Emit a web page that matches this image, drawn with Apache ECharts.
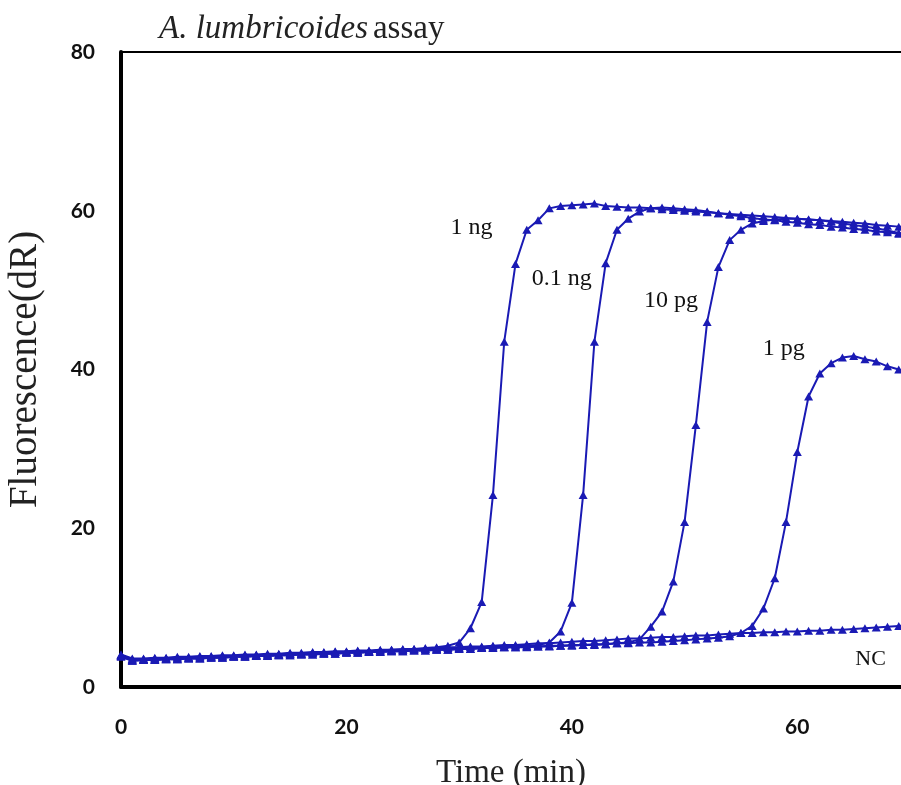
<!DOCTYPE html>
<html>
<head>
    <meta charset="utf-8">
    <title>A. lumbricoides assay</title>
    <script src="https://cdn.jsdelivr.net/npm/echarts@6/dist/echarts.min.js"></script>
</head>
<body style="margin:0;">
    <div id="main" style="width:901px;height:785px;"></div>
    <script type="text/javascript">
        // time points (min)
        var minutes = [0,1,2,3,4,5,6,7,8,9,
            10,11,12,13,14,15,16,17,18,19,
            20,21,22,23,24,25,26,27,28,29,
            30,31,32,33,34,35,36,37,38,39,
            40,41,42,43,44,45,46,47,48,49,
            50,51,52,53,54,55,56,57,58,59,
            60,61,62,63,64,65,66,67,68,69,
            70];

        // the picture is cut off a little after 69 min
        var xRange = [0, 69.2];
        var yTicks = [0, 20, 40, 60, 80];

        // fluorescence (dR) per template amount
        var ng1 = [4.1,3.6,3.6,3.7,3.7,3.8,3.8,3.9,3.9,4.0,
            4.0,4.1,4.1,4.2,4.2,4.3,4.3,4.4,4.4,4.5,
            4.5,4.6,4.6,4.7,4.7,4.8,4.8,4.9,5.0,5.2,
            5.6,7.4,10.7,24.2,43.5,53.3,57.6,58.8,60.3,60.6,
            60.7,60.8,60.9,60.6,60.5,60.4,60.4,60.3,60.2,60.1,
            60.0,59.9,59.8,59.7,59.6,59.5,59.4,59.3,59.2,59.1,
            59.0,58.9,58.8,58.7,58.6,58.5,58.4,58.2,58.1,58.0,
            57.9];
        var ng01 = [4.0,3.5,3.5,3.6,3.6,3.7,3.7,3.8,3.8,3.9,
            3.9,4.0,4.0,4.1,4.1,4.2,4.2,4.3,4.3,4.4,
            4.4,4.5,4.5,4.6,4.6,4.7,4.7,4.8,4.8,4.9,
            4.9,5.0,5.0,5.1,5.1,5.2,5.2,5.3,5.6,7.0,
            10.6,24.2,43.5,53.4,57.6,59.0,59.9,60.3,60.4,60.3,
            60.2,60.1,59.9,59.7,59.5,59.3,59.1,58.9,58.8,58.6,
            58.5,58.3,58.2,58.0,57.9,57.7,57.6,57.4,57.3,57.1,
            57.0];
        var pg10 = [3.8,3.3,3.4,3.4,3.5,3.5,3.6,3.6,3.7,3.7,
            3.8,3.8,3.9,3.9,4.0,4.0,4.1,4.1,4.2,4.2,
            4.3,4.3,4.4,4.4,4.5,4.5,4.6,4.6,4.7,4.7,
            4.8,4.8,4.9,4.9,5.0,5.0,5.0,5.1,5.1,5.2,
            5.2,5.3,5.3,5.4,5.5,5.6,6.0,7.6,9.5,13.3,
            20.8,33.0,46.0,52.9,56.3,57.6,58.4,58.7,58.9,59.0,
            59.0,58.9,58.8,58.6,58.4,58.2,58.0,57.8,57.5,57.2,
            57.0];
        var pg1 = [3.9,3.3,3.4,3.4,3.5,3.5,3.6,3.6,3.7,3.7,
            3.8,3.8,3.9,3.9,4.0,4.0,4.1,4.1,4.2,4.2,
            4.3,4.3,4.4,4.4,4.5,4.5,4.6,4.6,4.7,4.7,
            4.8,4.8,4.9,4.9,5.0,5.0,5.1,5.1,5.2,5.2,
            5.3,5.3,5.4,5.4,5.5,5.5,5.6,5.6,5.7,5.8,
            5.9,6.0,6.1,6.2,6.4,6.8,7.7,9.9,13.7,20.8,
            29.6,36.6,39.5,40.8,41.5,41.7,41.3,41.0,40.4,40.0,
            39.7];
        var nc = [4.0,3.4,3.5,3.5,3.6,3.6,3.7,3.7,3.8,3.8,
            3.9,3.9,4.0,4.0,4.1,4.2,4.2,4.3,4.3,4.4,
            4.4,4.5,4.5,4.6,4.7,4.7,4.8,4.8,4.9,5.0,
            5.0,5.1,5.1,5.2,5.3,5.3,5.4,5.5,5.5,5.6,
            5.7,5.8,5.8,5.9,6.0,6.1,6.1,6.2,6.3,6.3,
            6.4,6.5,6.5,6.6,6.7,6.8,6.8,6.9,6.9,7.0,
            7.0,7.1,7.1,7.2,7.2,7.3,7.4,7.5,7.6,7.7,
            7.8];

        var seriesNames = ['1 ng', '0.1 ng', '10 pg', '1 pg', 'NC'];
        var seriesValues = [ng1, ng01, pg10, pg1, nc];
        // where each curve's label sits, in data units
        var labelPos = [[31.1, 57.9], [39.1, 51.4], [48.8, 48.7], [58.8, 42.6], [66.5, 3.5]];

        var myChart = echarts.init(document.getElementById('main'));
        var blue = '#1a1ab4';

        var series = [];
        for (var i = 0; i < seriesNames.length; i++) {
            var pts = [];
            for (var k = 0; k < minutes.length; k++) {
                pts.push([minutes[k], seriesValues[i][k]]);
            }
            series.push({
                name: seriesNames[i],
                type: 'line',
                data: pts,
                symbol: 'triangle',
                symbolSize: [9, 8],
                lineStyle: {color: blue, width: 2},
                itemStyle: {color: blue},
                z: 2 + i,
                markPoint: {
                    symbol: 'rect',
                    symbolSize: 1,
                    itemStyle: {color: 'rgba(0,0,0,0)'},
                    label: {
                        show: true,
                        position: 'inside',
                        formatter: '{b}',
                        color: '#111',
                        fontFamily: 'Liberation Serif',
                        fontSize: i == 4 ? 22 : 24
                    },
                    data: [{name: seriesNames[i], coord: labelPos[i]}]
                }
            });
        }

        var option = {
            animation: false,
            backgroundColor: '#fff',
            title: {
                text: '{i|A. lumbricoides} {n|assay}',
                left: 154,
                top: 8,
                textStyle: {
                    rich: {
                        i: {fontFamily: 'Liberation Serif', fontStyle: 'italic', fontWeight: 'normal', fontSize: 33, color: '#222'},
                        n: {fontFamily: 'Liberation Serif', fontWeight: 'normal', fontSize: 33, color: '#222'}
                    }
                }
            },
            grid: {
                left: 121,
                top: 52,
                bottom: 98,
                right: 0,
                outerBoundsMode: 'none'
            },
            xAxis: [{
                type: 'value',
                min: xRange[0],
                max: xRange[1],
                interval: 20,
                splitLine: {show: false},
                axisTick: {show: false},
                axisLine: {lineStyle: {color: '#000', width: 4}},
                axisLabel: {
                    margin: 30,
                    color: '#111',
                    fontFamily: 'Lato',
                    fontWeight: 'bold',
                    fontSize: 21,
                    showMaxLabel: false
                },
                name: 'Time (min)',
                nameLocation: 'middle',
                nameGap: 70,
                nameTextStyle: {
                    fontFamily: 'Liberation Serif',
                    fontSize: 33,
                    color: '#222'
                }
            }, {
                // thin top frame line
                type: 'value',
                position: 'top',
                min: xRange[0],
                max: xRange[1],
                splitLine: {show: false},
                axisTick: {show: false},
                axisLabel: {show: false},
                axisLine: {lineStyle: {color: '#000', width: 2}}
            }],
            yAxis: {
                type: 'value',
                min: yTicks[0],
                max: yTicks[yTicks.length - 1],
                interval: 20,
                splitLine: {show: false},
                axisTick: {show: false},
                axisLine: {lineStyle: {color: '#000', width: 4}},
                axisLabel: {
                    margin: 26,
                    color: '#111',
                    fontFamily: 'Lato',
                    fontWeight: 'bold',
                    fontSize: 21
                },
                name: 'Fluorescence(dR)',
                nameLocation: 'middle',
                nameGap: 76,
                nameTextStyle: {
                    fontFamily: 'Liberation Serif',
                    fontSize: 39,
                    color: '#222'
                }
            },
            series: series
        };

        myChart.setOption(option);
    </script>
</body>
</html>
